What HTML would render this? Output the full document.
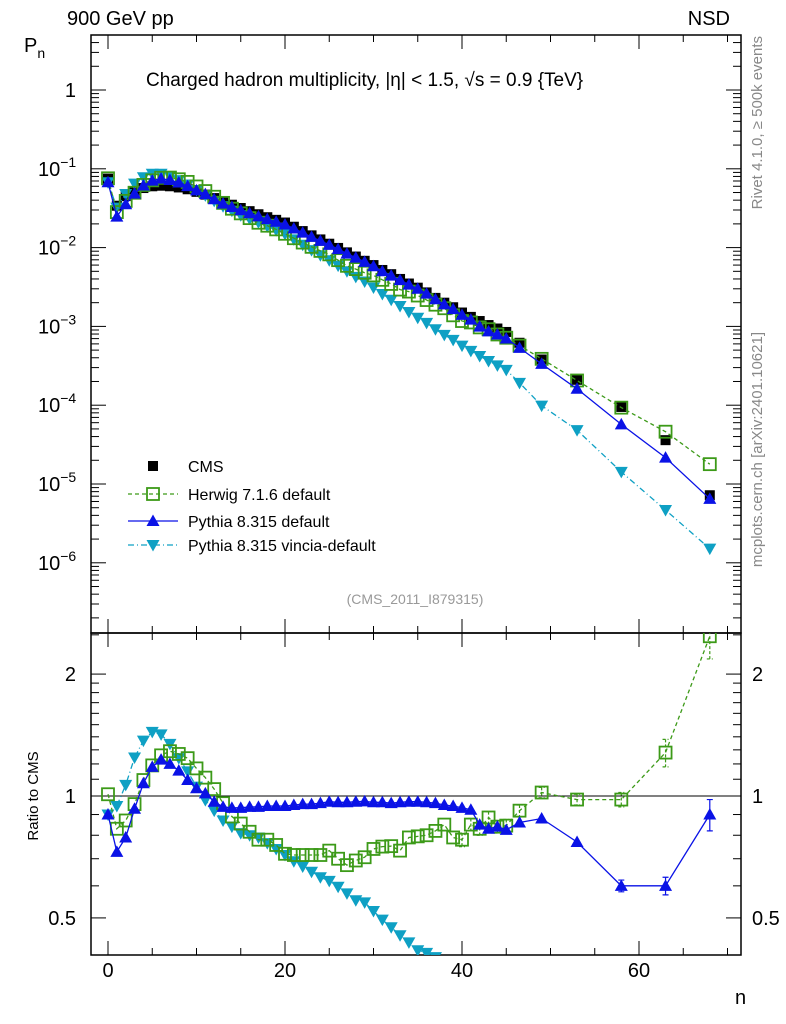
<!DOCTYPE html>
<html><head><meta charset="utf-8"><style>
html,body{margin:0;background:#fff;overflow:hidden;width:786px;height:1024px;}
svg{display:block;font-family:"Liberation Sans",sans-serif;}
</style></head><body>
<svg id="c" width="786" height="1024" viewBox="0 0 786 1024" xmlns="http://www.w3.org/2000/svg">
<g id="frames"></g>
<g id="ticks" stroke="#000" stroke-width="1"></g>
<g id="marks"></g>
<g id="labels" fill="#000"></g>
</svg>
<script>
const nValues=[0,1,2,3,4,5,6,7,8,9,10,11,12,13,14,15,16,17,18,19,20,21,22,23,24,25,26,27,28,29,30,31,32,33,34,35,36,37,38,39,40,41,42,43,44,45,46.5,49,53,58,63,68];
const cmsValues=[0.075,0.034,0.045,0.052,0.057,0.060,0.061,0.060,0.058,0.055,0.051,0.047,0.0425,0.0385,0.035,0.0318,0.029,0.0265,0.0243,0.0225,0.0208,0.0184,0.0162,0.0143,0.0127,0.0112,0.0099,0.0087,0.0077,0.0068,0.0060,0.0052,0.0046,0.0040,0.0035,0.0031,0.0027,0.0023,0.0020,0.00175,0.0015,0.00132,0.00117,0.00104,0.00094,0.00085,0.00062,0.00038,0.00021,9.5e-5,3.6e-5,7.2e-6];
const herwigRatio=[1.01,0.83,0.87,0.955,1.095,1.19,1.26,1.29,1.27,1.24,1.17,1.11,1.04,0.96,0.89,0.855,0.816,0.78,0.78,0.757,0.72,0.715,0.715,0.715,0.715,0.733,0.70,0.675,0.693,0.706,0.74,0.75,0.752,0.733,0.79,0.795,0.80,0.82,0.85,0.79,0.78,0.85,0.83,0.885,0.84,0.845,0.92,1.02,0.98,0.98,1.28,2.48];
const pythiaRatio=[0.90,0.728,0.79,0.93,1.075,1.18,1.23,1.20,1.155,1.095,1.045,1.015,0.968,0.94,0.935,0.935,0.94,0.94,0.945,0.945,0.945,0.95,0.955,0.955,0.96,0.968,0.965,0.965,0.968,0.97,0.965,0.965,0.96,0.965,0.968,0.968,0.965,0.96,0.95,0.945,0.935,0.925,0.85,0.83,0.84,0.825,0.86,0.88,0.77,0.60,0.60,0.90];
const vinciaRatio=[0.90,0.945,1.065,1.245,1.37,1.44,1.42,1.345,1.24,1.15,1.055,0.977,0.92,0.87,0.84,0.81,0.80,0.79,0.765,0.74,0.715,0.69,0.67,0.65,0.63,0.617,0.597,0.575,0.553,0.546,0.52,0.495,0.474,0.453,0.435,0.416,0.41,0.40,0.39,0.385,0.38,0.37,0.36,0.35,0.34,0.33,0.31,0.26,0.23,0.15,0.13,0.21];
const herwigErr=[0,0,0,0,0,0,0,0,0,0,0,0,0,0,0,0,0,0,0,0,0,0,0,0,0,0,0,0,0,0,0,0,0,0,0,0,0,0,0,0,0.03,0.03,0.03,0.03,0.03,0.03,0.03,0.03,0.03,0.04,0.1,0.3];
const pythiaErr=[0,0,0,0,0,0,0,0,0,0,0,0,0,0,0,0,0,0,0,0,0,0,0,0,0,0,0,0,0,0,0,0,0,0,0,0,0,0,0,0,0,0,0,0,0,0,0,0,0,0.02,0.03,0.08];
const mainTickExps=[0,-1,-2,-3,-4,-5,-6];
const ratioLabels=[0.5,1,2];
const xLabels=[0,20,40,60];

const NS="http://www.w3.org/2000/svg";
const L=91,R=741,T=35,M=633,B=955;
const X=n=>108+n*8.85;
const Y=v=>90-78.8*Math.log10(v);
const RY=r=>796-405*Math.log10(r);
function mk(tag,attrs,parent){const e=document.createElementNS(NS,tag);for(const k in attrs)e.setAttribute(k,attrs[k]);(parent||document.getElementById('c')).appendChild(e);return e;}
const frames=document.getElementById('frames'),ticks=document.getElementById('ticks'),marks=document.getElementById('marks'),labels=document.getElementById('labels');

const defs=mk('defs',{});
const cp=mk('clipPath',{id:'rclip'},defs);mk('rect',{x:L,y:M,width:R-L,height:B-M},cp);
const cp2=mk('clipPath',{id:'mclip'},defs);mk('rect',{x:L,y:T,width:R-L,height:M-T},cp2);

let f=mk('rect',{x:L,y:T,width:R-L,height:M-T,fill:'none',stroke:'#000','stroke-width':1.5},frames);

f=mk('rect',{x:L,y:M,width:R-L,height:B-M,fill:'none',stroke:'#000','stroke-width':1.5},frames);

let ref=mk('line',{x1:L,x2:R,y1:RY(1),y2:RY(1),stroke:'#000','stroke-width':1},frames);


for(let n=0;n<=70;n+=5){const x=X(n);const len=(n%20===0)?14:7;
 [[M,-1],[T,1],[B,-1],[M,1]].forEach(([y0,d])=>mk('line',{x1:x,x2:x,y1:y0,y2:y0+d*len},ticks));}
for(let e=-7;e<=0;e++){for(let k=1;k<=9;k++){const v=k*Math.pow(10,e);const y=Y(v);if(y<T||y>M)continue;const len=k===1?15:8;
 mk('line',{x1:L,x2:L+len,y1:y,y2:y},ticks);mk('line',{x1:R,x2:R-len,y1:y,y2:y},ticks);}}
[0.5,0.6,0.7,0.8,0.9,1,1.1,1.2,1.3,1.4,1.5,1.6,1.7,1.8,1.9,2,2.5].forEach(r=>{const y=RY(r);if(y<M||y>B)return;const len=(r===0.5||r===1||r===2)?15:8;
 mk('line',{x1:L,x2:L+len,y1:y,y2:y},ticks);mk('line',{x1:R,x2:R-len,y1:y,y2:y},ticks);});

function txt(s,x,y,opt){const t=mk('text',Object.assign({x:x,y:y,'font-size':20},opt||{}),labels);t.textContent=s;return t;}
let t;
mainTickExps.forEach(e=>{const y=Y(Math.pow(10,e));
 if(e===0){t=txt('1',76,y+7,{'text-anchor':'end'});}
 else{t=mk('text',{x:38,y:y+7,'font-size':20},labels);t.textContent='10';const s=mk('tspan',{dy:-9,'font-size':14},t);s.textContent=String(e).replace('-','−');}
 });
ratioLabels.forEach(r=>{const y=RY(r)+7;
 t=txt(String(r),76,y,{'text-anchor':'end'});
 t=txt(String(r),752,y);});
xLabels.forEach(n=>{t=txt(String(n),X(n),977,{'text-anchor':'middle'});});

function series(vals,clip,color,dash,name){
 const g=mk('g',{'clip-path':'url(#'+clip+')'},marks);
 
 const d=vals.map((v,i)=>(i?'L':'M')+X(nValues[i]).toFixed(1)+','+v.toFixed(1)).join('');
 const p=mk('path',{d:d,fill:'none',stroke:color,'stroke-width':1.3,'stroke-dasharray':dash||'none'},g);
 
 return g;}
function marker(g,type,x,y,color){let e;
 if(type==='sq')e=mk('rect',{x:x-5,y:y-5,width:10,height:10,fill:'#000'},g);
 else if(type==='osq')e=mk('rect',{x:x-6,y:y-6,width:12,height:12,fill:'none',stroke:color,'stroke-width':1.8},g);
 else if(type==='up')e=mk('path',{d:`M${x},${y-6.5}L${x+6.5},${y+5}L${x-6.5},${y+5}Z`,fill:color},g);
 else e=mk('path',{d:`M${x},${y+6.5}L${x+6.5},${y-5}L${x-6.5},${y-5}Z`,fill:color},g);
 return e;}

const G='#3c9a18',BL='#0a12e6',CY='#0ea0c4';
const herwigMain=cmsValues.map((c,i)=>c*herwigRatio[i]);
const pythiaMain=cmsValues.map((c,i)=>c*pythiaRatio[i]);
const vinciaMain=cmsValues.map((c,i)=>c*vinciaRatio[i]);
let g=series(cmsValues.map(v=>Y(v)),'mclip','none',null,'cms-series');
cmsValues.forEach((v,i)=>{const m=marker(g,'sq',X(nValues[i]),Y(v));});
g=series(vinciaMain.map(v=>Y(v)),'mclip',CY,'6,3,1,3','vincia-series');
vinciaMain.forEach((v,i)=>{const m=marker(g,'dn',X(nValues[i]),Y(v),CY);});
g=series(herwigMain.map(v=>Y(v)),'mclip',G,'4,3','herwig-series');
herwigMain.forEach((v,i)=>{const m=marker(g,'osq',X(nValues[i]),Y(v),G);});
g=series(pythiaMain.map(v=>Y(v)),'mclip',BL,null,'pythia-series');
pythiaMain.forEach((v,i)=>{const m=marker(g,'up',X(nValues[i]),Y(v),BL);});
g=series(vinciaRatio.map(r=>RY(r)),'rclip',CY,'6,3,1,3','vincia-ratio-series');
vinciaRatio.forEach((r,i)=>{const m=marker(g,'dn',X(nValues[i]),RY(r),CY);});
g=series(herwigRatio.map(r=>RY(r)),'rclip',G,'4,3','herwig-ratio-series');
herwigRatio.forEach((r,i)=>{const x=X(nValues[i]);
 if(herwigErr[i]>0){const e=mk('path',{d:`M${x},${RY(r+herwigErr[i])}V${RY(r-herwigErr[i])}M${x-3},${RY(r+herwigErr[i])}h6M${x-3},${RY(r-herwigErr[i])}h6`,stroke:G,'stroke-width':1.2,fill:'none','stroke-dasharray':'3,2'},g);}
 const m=marker(g,'osq',x,RY(r),G);});
g=series(pythiaRatio.map(r=>RY(r)),'rclip',BL,null,'pythia-ratio-series');
pythiaRatio.forEach((r,i)=>{const x=X(nValues[i]);
 if(pythiaErr[i]>0){const e=mk('path',{d:`M${x},${RY(r+pythiaErr[i])}V${RY(r-pythiaErr[i])}M${x-3},${RY(r+pythiaErr[i])}h6M${x-3},${RY(r-pythiaErr[i])}h6`,stroke:BL,'stroke-width':1.2,fill:'none'},g);}
 const m=marker(g,'up',x,RY(r),BL);});

const leg=mk('g',{},labels);
const entries=[['CMS','sq','#000',null,466],['Herwig 7.1.6 default','osq',G,'4,3',494],['Pythia 8.315 default','up',BL,null,521],['Pythia 8.315 vincia-default','dn',CY,'6,3,1,3',545]];
entries.forEach(([name,type,col,dash,y])=>{const eg=mk('g',{},leg);
 if(type!=='sq'){mk('line',{x1:128,x2:178,y1:y,y2:y,stroke:col,'stroke-width':1.3,'stroke-dasharray':dash||'none'},eg);}
 marker(eg,type,153,y,col);
 const tt=mk('text',{x:188,y:y+6,'font-size':16},eg);tt.textContent=name;});

t=txt('900 GeV pp',67,25);
t=txt('NSD',730,25,{'text-anchor':'end'});
t=mk('text',{x:24,y:52,'font-size':20},labels);t.textContent='P';const sb=mk('tspan',{dy:6,'font-size':14},t);sb.textContent='n';

t=txt('Charged hadron multiplicity, |η| < 1.5, √s = 0.9 {TeV}',146,86,{'font-size':19});
t=txt('(CMS_2011_I879315)',415,604,{'font-size':14,fill:'#999','text-anchor':'middle'});
t=txt('Ratio to CMS',0,0,{'font-size':15,'text-anchor':'middle',transform:'translate(38,796) rotate(-90)'});
t=txt('n',735,1004);
t=txt('Rivet 4.1.0, ≥ 500k events',0,0,{'font-size':15,fill:'#888','text-anchor':'end',transform:'translate(762,36) rotate(-90)'});
t=txt('mcplots.cern.ch [arXiv:2401.10621]',0,0,{'font-size':15,fill:'#888','text-anchor':'end',transform:'translate(762,332) rotate(-90)'});
</script>
</body></html>
